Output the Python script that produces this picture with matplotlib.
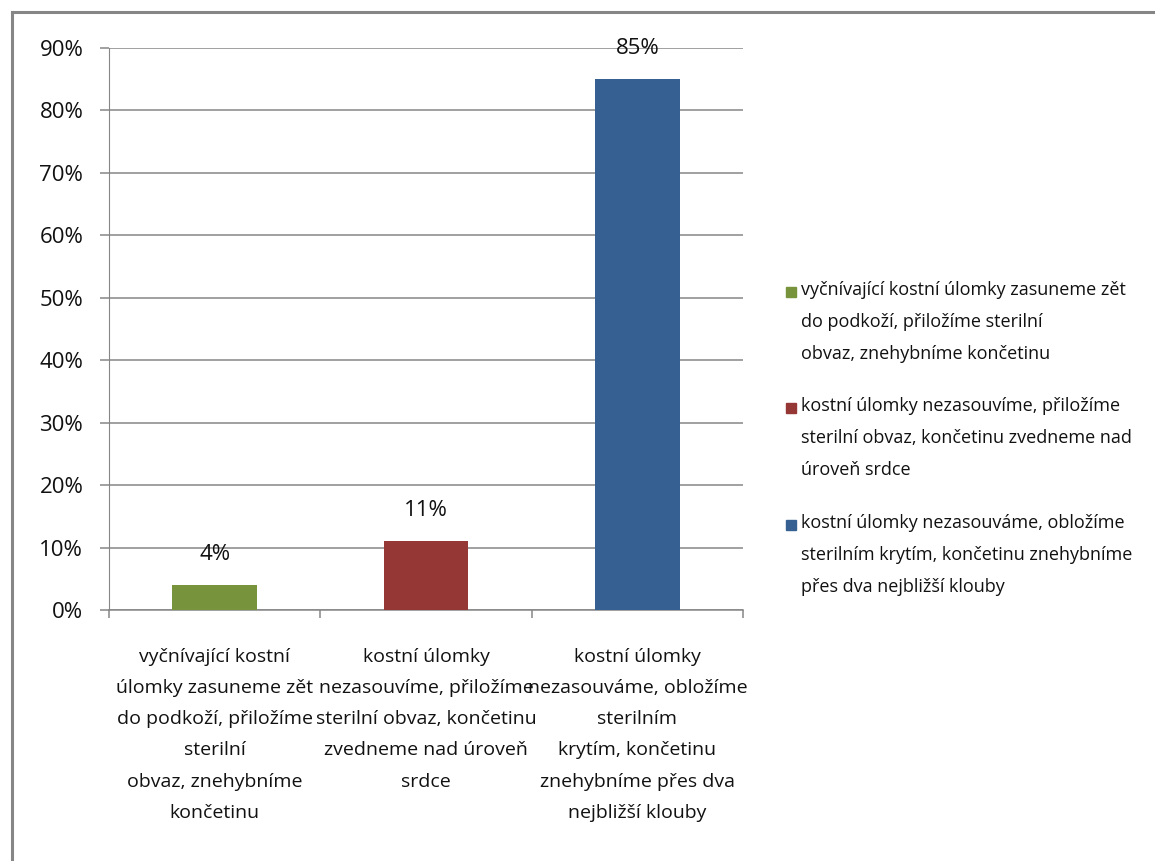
import matplotlib
matplotlib.use("Agg")
import matplotlib.pyplot as plt
from matplotlib import font_manager
from matplotlib.patches import Rectangle
from matplotlib.lines import Line2D

# data
categories = [
    "vyčnívající kostní\núlomky zasuneme zět\ndo podkoží, přiložíme\nsterilní\nobvaz, znehybníme\nkončetinu",
    "kostní úlomky\nnezasouvíme, přiložíme\nsterilní obvaz, končetinu\nzvedneme nad úroveň\nsrdce",
    "kostní úlomky\nnezasouváme, obložíme\nsterilním\nkrytím, končetinu\nznehybníme přes dva\nnejbližší klouby",
]
legend_labels = [
    "vyčnívající kostní úlomky zasuneme zět\ndo podkoží, přiložíme sterilní\nobvaz, znehybníme končetinu",
    "kostní úlomky nezasouvíme, přiložíme\nsterilní obvaz, končetinu zvedneme nad\núroveň srdce",
    "kostní úlomky nezasouváme, obložíme\nsterilním krytím, končetinu znehybníme\npřes dva nejbližší klouby",
]
values = [4, 11, 85]
colors = ["#77933C", "#953735", "#376092"]
yticks = [0, 10, 20, 30, 40, 50, 60, 70, 80, 90]

names = {f.name for f in font_manager.fontManager.ttflist}
fam = "DejaVu Sans"
for cand in ["Liberation Sans Narrow", "Open Sans", "Roboto", "Liberation Sans"]:
    if cand in names:
        fam = cand
        break
plt.rcParams["font.family"] = [fam, "DejaVu Sans"]

grey = "#868686"
W, H = 1155, 861
fig = plt.figure(figsize=(W / 100, H / 100), dpi=100)
ax = fig.add_axes([109 / W, 1 - 610 / H, (743 - 109) / W, (610 - 48) / H])

x = list(range(len(values)))
ax.bar(x, values, width=0.4, color=colors, zorder=3)

for i, v in enumerate(values):
    ax.annotate(f"{v}%", xy=(i, v), xytext=(0, 22), textcoords="offset points",
                ha="center", va="center", fontsize=16, color="#111111", zorder=4)

ax.set_xlim(-0.5, 2.5)
ax.set_ylim(0, 90)
ax.set_yticks(yticks)
ax.set_yticklabels([f"{t}%" for t in yticks], fontsize=16, color="#111111")
ax.yaxis.grid(True, color=grey, linewidth=1.1, zorder=0)
ax.tick_params(axis="y", length=6.5, width=1.1, color=grey, pad=12)

ax.set_xticks(x)
ax.set_xticklabels(categories, fontsize=14, color="#111111")
for lbl in ax.get_xticklabels():
    lbl.set_linespacing(1.95)
ax.tick_params(axis="x", which="major", length=0, pad=27)
ax.set_xticks([-0.5, 0.5, 1.5, 2.5], minor=True)
ax.tick_params(axis="x", which="minor", length=6, width=1.1, color=grey)

for s in ["top", "right"]:
    ax.spines[s].set_visible(False)
ax.spines["left"].set_color(grey)
ax.spines["left"].set_linewidth(0.8)
ax.spines["bottom"].set_color(grey)
ax.spines["bottom"].set_linewidth(1.1)

# legend, square next to the first line of each entry
leg_tops = [292, 408, 525]
for lab, col, yt in zip(legend_labels, colors, leg_tops):
    fig.patches.append(Rectangle((786 / W, 1 - (yt + 5) / H), 10 / W, 10 / H,
                                 transform=fig.transFigure, color=col))
    fig.text(801 / W, 1 - (yt - 11) / H, lab, fontsize=13, color="#111111",
             ha="left", va="top", linespacing=2.0)

# outer frame
fig.lines.append(Line2D([12 / W, 12 / W], [0, 1 - 12 / H], transform=fig.transFigure,
                        color=grey, linewidth=2.2))
fig.lines.append(Line2D([12 / W, 1], [1 - 12 / H, 1 - 12 / H], transform=fig.transFigure,
                        color=grey, linewidth=2.2))

fig.savefig("out.png", dpi=100)
